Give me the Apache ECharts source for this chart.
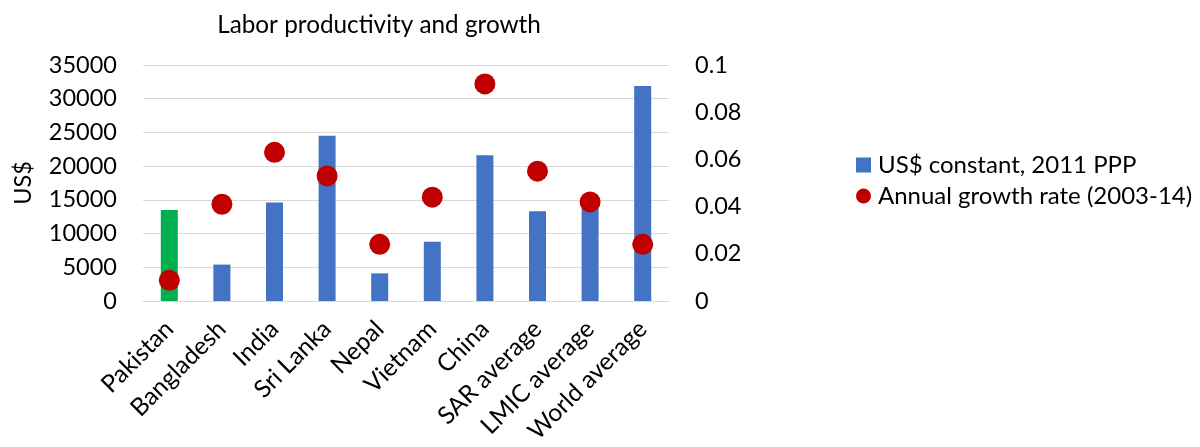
<!DOCTYPE html>
<html>
<head>
<meta charset="utf-8">
<script src="https://cdn.jsdelivr.net/npm/echarts@6/dist/echarts.min.js"></script>
<style>html,body{margin:0;padding:0;background:#fff}#c{width:1200px;height:447px}</style>
</head>
<body>
<div id="c"></div>
<script>
const categories = ['Pakistan','Bangladesh','India','Sri Lanka','Nepal','Vietnam','China','SAR average','LMIC average','World average'];
const productivity = [13500, 5400, 14600, 24500, 4100, 8800, 21600, 13300, 14500, 31900];
const growthRate = [0.0088, 0.041, 0.063, 0.053, 0.024, 0.044, 0.092, 0.055, 0.042, 0.024];
const highlightCategory = 'Pakistan';

const FONT = 'Lato, "Open Sans", sans-serif';
const chart = echarts.init(document.getElementById('c'));
chart.setOption({
  animation: false,
  title: {
    text: 'Labor productivity and growth',
    left: 374, top: 8, textAlign: 'center',
    textStyle: { fontFamily: FONT, fontSize: 24.3, fontWeight: 'normal', color: '#000' }
  },
  legend: {
    orient: 'vertical', left: 851, top: 148, itemGap: 7,
    itemWidth: 15, itemHeight: 15,
    textStyle: { fontFamily: FONT, fontSize: 24, color: '#000', padding: [0, 0, 0, 2] },
    data: [
      { name: 'US$ constant, 2011 PPP', icon: 'rect', itemStyle: { color: '#4472C4' } },
      { name: 'Annual growth rate (2003-14)', icon: 'circle', itemStyle: { color: '#C00000' } }
    ]
  },
  grid: { left: 143, right: 531, top: 65, bottom: 146 },
  xAxis: {
    type: 'category', data: categories,
    axisLine: { lineStyle: { color: '#D9D9D9' } },
    axisTick: { show: false },
    axisLabel: { interval: 0, rotate: 45, margin: 24, fontFamily: FONT, fontSize: 24.5, color: '#000' }
  },
  yAxis: [
    {
      type: 'value', min: 0, max: 35000, interval: 5000,
      name: 'US$', nameLocation: 'middle', nameGap: 108, nameRotate: 90,
      nameTextStyle: { fontFamily: FONT, fontSize: 23.5, color: '#000' },
      axisLabel: { fontFamily: FONT, fontSize: 23.5, color: '#000', margin: 26,
        formatter: v => String(v) },
      splitLine: { lineStyle: { color: '#D9D9D9' } },
      axisLine: { show: false }, axisTick: { show: false }
    },
    {
      type: 'value', min: 0, max: 0.1, interval: 0.02,
      axisLabel: { fontFamily: FONT, fontSize: 23.5, color: '#000', margin: 26,
        formatter: v => String(+v.toFixed(2)) },
      splitLine: { show: false }, axisLine: { show: false }, axisTick: { show: false }
    }
  ],
  series: [
    {
      name: 'US$ constant, 2011 PPP', type: 'bar', barWidth: 17,
      itemStyle: { color: '#4472C4' },
      data: productivity.map((v, i) => categories[i] === highlightCategory
        ? { value: v, itemStyle: { color: '#00B050' } } : v)
    },
    {
      name: 'Annual growth rate (2003-14)', type: 'scatter', yAxisIndex: 1,
      symbol: 'circle', symbolSize: 21,
      itemStyle: { color: '#C00000', opacity: 1 },
      data: growthRate
    }
  ]
});
</script>
</body>
</html>
